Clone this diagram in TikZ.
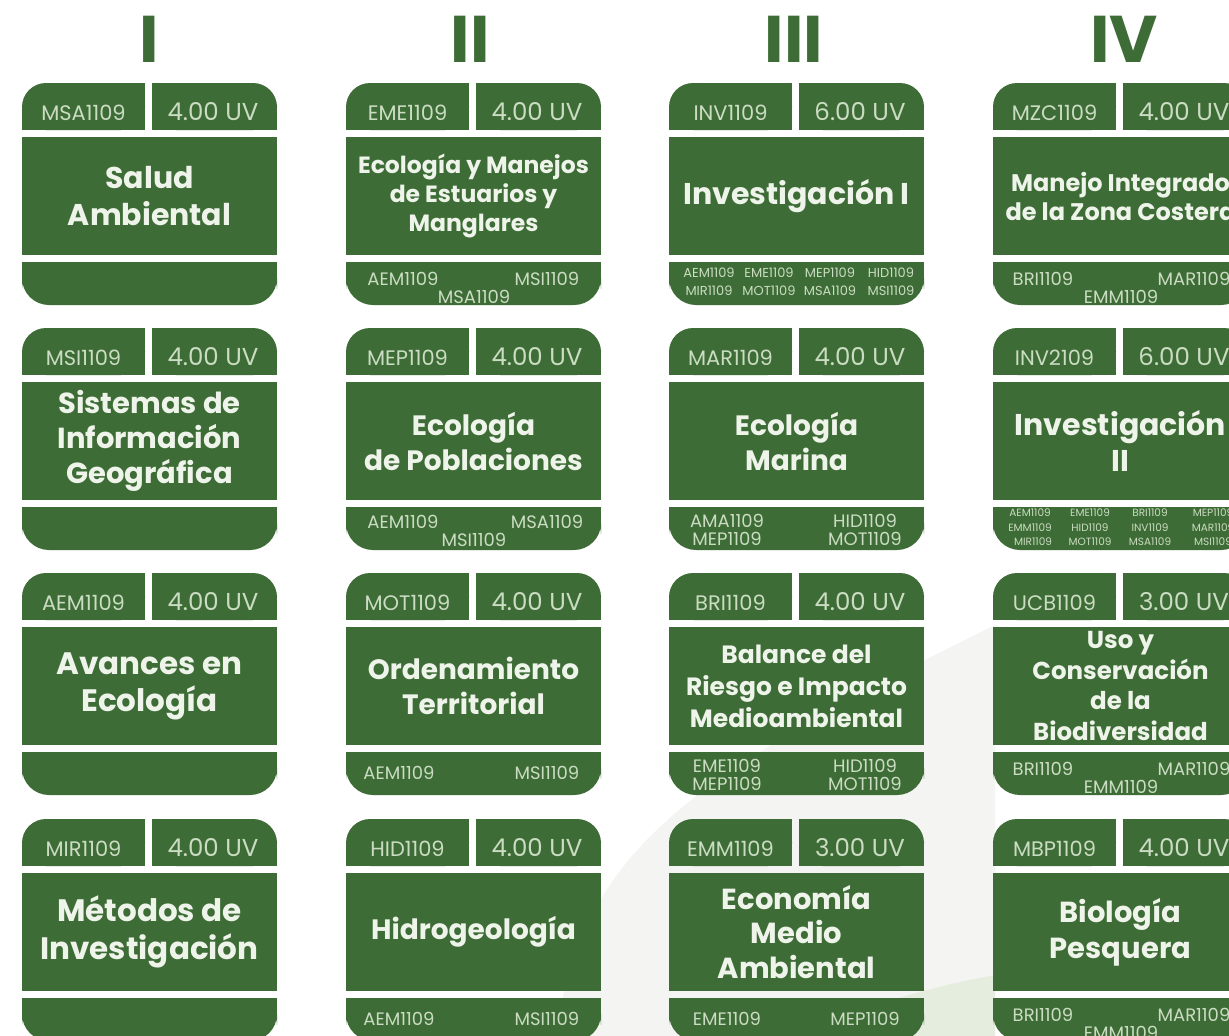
\documentclass[tikz,border=0pt]{standalone}
\usepackage{fontspec}
\setmainfont{Poppins}
\definecolor{cg}{HTML}{3E6C36}
\definecolor{ct}{HTML}{EEF4EA}
\definecolor{cc}{HTML}{CADCC2}
\definecolor{swg}{HTML}{F4F4F3}
\definecolor{swgreen}{HTML}{E5EEDE}
\tikzset{
  hcode/.style={text=cc, inner sep=0pt, anchor=base, font=\fontsize{21}{21}\selectfont},
  huv/.style={text=cc, inner sep=0pt, anchor=base, font=\fontsize{24.5}{24.5}\selectfont},
  ttl/.style={text=ct, inner sep=0pt, align=center},
  pre/.style={text=cc, inner sep=0pt, font=\fontsize{18}{18}\selectfont},
  presm/.style={text=cc, inner sep=0pt, font=\fontsize{13}{13}\selectfont},
  prexs/.style={text=cc, inner sep=0pt, font=\fontsize{10.5}{10.5}\selectfont},
  num/.style={text=cg, inner sep=0pt, anchor=base, font=\bfseries\fontsize{66}{66}\selectfont},
}
% #1 name, #2 code, #3 uv, #4 size, #5 leading, #6 title
\newcommand\CardBody[6]{%
  \fill[cg, rounded corners=24] (0,0) rectangle (123,47);
  \fill[cg] (0,24) rectangle (123,47);
  \fill[cg] (60,0) rectangle (123,47);
  \fill[cg, rounded corners=24] (130,0) rectangle (255,47);
  \fill[cg] (130,24) rectangle (255,47);
  \fill[cg] (130,0) rectangle (190,47);
  \fill[cg] (0,54) rectangle (255,172);
  \fill[cg, rounded corners=27] (0,179) rectangle (255,222);
  \fill[cg] (0,179) rectangle (255,200);
  \node[hcode] (#1code) at (61.5,37) {#2};
  \node[huv] (#1uv) at (191,37) {#3};
  \node[ttl, font=\bfseries\fontsize{#4}{#5}\selectfont] (#1title) at (127.5,113) {#6};
}
\begin{document}
\begin{tikzpicture}[x=1pt, y=-1pt]
\useasboundingbox (0,0) rectangle (1229,1036);
\clip (0,0) rectangle (1229,1036);
\fill[white] (0,0) rectangle (1229,1036);
% faint background swoosh
\fill[swg] (555,1036) .. controls (585,860) and (660,790) .. (995,625) -- (995,1036) -- cycle;
\fill[swgreen] (800,1036) .. controls (880,1000) and (940,985) .. (995,975) -- (995,1036) -- cycle;

% column numerals
\node[num] (n1) at (149.5,62) {I};
\node[num] (n2) at (470,62) {II};
\node[num] (n3) at (794,62) {III};
\node[num] (n4) at (1124,62) {IV};

% ---------------- Column I
\begin{scope}[shift={(22,83)}]
\CardBody{c11}{MSA1109}{4.00 UV}{30}{37}{Salud\\Ambiental}
\end{scope}
\begin{scope}[shift={(22,328)}]
\CardBody{c12}{MSI1109}{4.00 UV}{29}{35}{Sistemas de\\Información\\Geográfica}
\end{scope}
\begin{scope}[shift={(22,573)}]
\CardBody{c13}{AEM1109}{4.00 UV}{31}{37}{Avances en\\Ecología}
\end{scope}
\begin{scope}[shift={(22,819)}]
\CardBody{c14}{MIR1109}{4.00 UV}{31}{38}{Métodos de\\Investigación}
\end{scope}

% ---------------- Column II
\begin{scope}[shift={(346,83)}]
\CardBody{c21}{EME1109}{4.00 UV}{23.5}{29}{Ecología y Manejos\\de Estuarios y\\Manglares}
\node[pre] (c21p1) at (57,196) {AEM1109};
\node[pre] (c21p2) at (201,196) {MSI1109};
\node[pre] (c21p3) at (128,214) {MSA1109};
\end{scope}
\begin{scope}[shift={(346,328)}]
\CardBody{c22}{MEP1109}{4.00 UV}{28}{35}{Ecología\\de Poblaciones}
\node[pre] (c22p1) at (57,194) {AEM1109};
\node[pre] (c22p2) at (201,194) {MSA1109};
\node[pre] (c22p3) at (128,212) {MSI1109};
\end{scope}
\begin{scope}[shift={(346,573)}]
\CardBody{c23}{MOT1109}{4.00 UV}{28}{35}{Ordenamiento\\Territorial}
\node[pre] (c23p1) at (53,200) {AEM1109};
\node[pre] (c23p2) at (201,200) {MSI1109};
\end{scope}
\begin{scope}[shift={(346,819)}]
\CardBody{c24}{HID1109}{4.00 UV}{28}{34}{Hidrogeología}
\node[pre] (c24p1) at (53,200) {AEM1109};
\node[pre] (c24p2) at (201,200) {MSI1109};
\end{scope}

% ---------------- Column III
\begin{scope}[shift={(669,83)}]
\CardBody{c31}{INV1109}{6.00 UV}{30}{36}{Investigación I}
\node[presm] (c31p1) at (40,190) {AEM1109};
\node[presm] (c31p2) at (100,190) {EME1109};
\node[presm] (c31p3) at (161,190) {MEP1109};
\node[presm] (c31p4) at (222,190) {HID1109};
\node[presm] (c31p5) at (40,208) {MIR1109};
\node[presm] (c31p6) at (100,208) {MOT1109};
\node[presm] (c31p7) at (161,208) {MSA1109};
\node[presm] (c31p8) at (222,208) {MSI1109};
\end{scope}
\begin{scope}[shift={(669,328)}]
\CardBody{c32}{MAR1109}{4.00 UV}{28}{35}{Ecología\\Marina}
\node[pre] (c32p1) at (58,193) {AMA1109};
\node[pre] (c32p2) at (196,193) {HID1109};
\node[pre] (c32p3) at (58,211) {MEP1109};
\node[pre] (c32p4) at (196,211) {MOT1109};
\end{scope}
\begin{scope}[shift={(669,573)}]
\CardBody{c33}{BRI1109}{4.00 UV}{25}{32}{Balance del\\Riesgo e Impacto\\Medioambiental}
\node[pre] (c33p1) at (58,193) {EME1109};
\node[pre] (c33p2) at (196,193) {HID1109};
\node[pre] (c33p3) at (58,211) {MEP1109};
\node[pre] (c33p4) at (196,211) {MOT1109};
\end{scope}
\begin{scope}[shift={(669,819)}]
\CardBody{c34}{EMM1109}{3.00 UV}{29}{34.5}{Economía\\Medio\\Ambiental}
\node[pre] (c34p1) at (58,200) {EME1109};
\node[pre] (c34p2) at (196,200) {MEP1109};
\end{scope}

% ---------------- Column IV
\begin{scope}[shift={(993,83)}]
\CardBody{c41}{MZC1109}{4.00 UV}{24}{29}{Manejo Integrado\\de la Zona Costera}
\node[pre] (c41p1) at (50,196) {BRI1109};
\node[pre] (c41p2) at (201,196) {MAR1109};
\node[pre] (c41p3) at (128,214) {EMM1109};
\end{scope}
\begin{scope}[shift={(993,328)}]
\CardBody{c42}{INV2109}{6.00 UV}{30}{36}{Investigación\\II}
\node[prexs] (c42p1) at (37,185) {AEM1109};
\node[prexs] (c42p2) at (97,185) {EME1109};
\node[prexs] (c42p3) at (157,185) {BRI1109};
\node[prexs] (c42p4) at (220,185) {MEP1109};
\node[prexs] (c42p5) at (37,200) {EMM1109};
\node[prexs] (c42p6) at (97,200) {HID1109};
\node[prexs] (c42p7) at (157,200) {INV1109};
\node[prexs] (c42p8) at (220,200) {MAR1109};
\node[prexs] (c42p9) at (40,214) {MIR1109};
\node[prexs] (c42p10) at (97,214) {MOT1109};
\node[prexs] (c42p11) at (157,214) {MSA1109};
\node[prexs] (c42p12) at (220,214) {MSI1109};
\end{scope}
\begin{scope}[shift={(993,573)}]
\CardBody{c43}{UCB1109}{3.00 UV}{24.5}{30.5}{Uso y\\Conservación\\de la\\Biodiversidad}
\node[pre] (c43p1) at (50,196) {BRI1109};
\node[pre] (c43p2) at (201,196) {MAR1109};
\node[pre] (c43p3) at (128,214) {EMM1109};
\end{scope}
\begin{scope}[shift={(993,819)}]
\CardBody{c44}{MBP1109}{4.00 UV}{29}{36}{Biología\\Pesquera}
\node[pre] (c44p1) at (50,196) {BRI1109};
\node[pre] (c44p2) at (201,196) {MAR1109};
\node[pre] (c44p3) at (128,214) {EMM1109};
\end{scope}
\end{tikzpicture}
\end{document}
